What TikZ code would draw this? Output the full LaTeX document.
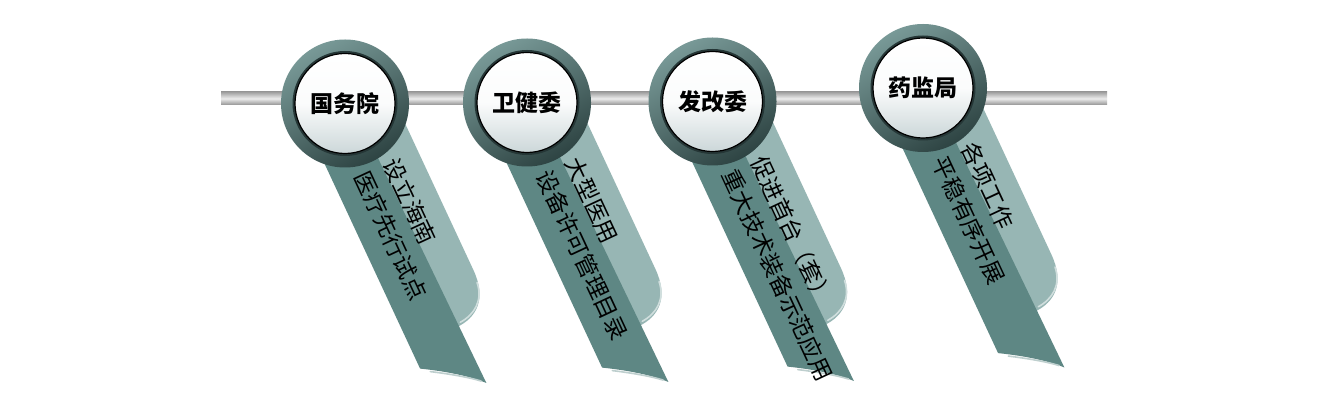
\documentclass[tikz,border=0pt]{standalone}
\usepackage{fontspec}
\usepackage{xcolor}
\usetikzlibrary{positioning}
\newfontfamily\cjk{Noto Sans CJK SC}
\definecolor{RingLight}{RGB}{120,153,151}
\definecolor{RingDark}{RGB}{46,68,67}
\definecolor{BandDark}{RGB}{94,135,132}
\definecolor{BandLight}{RGB}{151,182,180}
\definecolor{DiskShade}{RGB}{204,215,217}

\begin{document}
\begin{tikzpicture}[
  x=1pt, y=1pt,
  font=\cjk,
  bar/.style={top color=gray!75, bottom color=gray!85, middle color=white!85!gray},
  ring/.style={circle, minimum size=128pt, inner sep=0pt,
    top color=RingLight, bottom color=RingDark, shading angle=30},
  badge/.style={circle, minimum size=100pt, inner sep=0pt,
    preaction={draw=RingDark!80!black, line width=5pt},
    draw=black, line width=1.2pt,
    top color=white, bottom color=DiskShade, middle color=white!92!DiskShade,
    font=\cjk\bfseries\fontsize{23}{23}\selectfont},
  ribbontext/.style={align=left, inner sep=0pt, rotate=-65, anchor=west,
    font=\cjk\fontsize{23}{32}\selectfont},
  shine/.style={line width=1.6pt, line cap=round},
  ribbon/.pic={
    \begin{scope}[rotate=25]
      \fill[BandLight] (6,0) -- (46,0) -- (46,-205)
        .. controls (46,-236) and (30,-250) .. (6,-250) -- cycle;
      \draw[shine, white!55!BandLight] (44,-218)
        .. controls (42,-237) and (28,-246) .. (12,-247);
      \fill[BandDark] (-44,0) -- (-44,-272)
        .. controls (-24,-284) and (-4,-298) .. (10,-313) -- (6,0) -- cycle;
      \draw[shine, white!60!BandDark] (-36,-279)
        .. controls (-20,-289) and (-4,-300) .. (6,-309);
      \node[ribbontext] (-txt) at (1.5,-70) {#1};
    \end{scope}
  }
]
  \useasboundingbox[fill=white] (0,0) rectangle (1329,401);

  % centres of the four badges
  \coordinate (gwy-c) at (345,297.5);
  \coordinate (wjw-c) at (527,298.5);
  \coordinate (fgw-c) at (712.5,299.5);
  \coordinate (yjj-c) at (923,313);
  \coordinate (bar-l) at (221,296);
  \coordinate (bar-r) at (1107,309);

  % the rod behind the badges
  \shade[bar] (bar-l) rectangle (bar-r);

  % hanging ribbons
  \pic (gwy) at (gwy-c) {ribbon={设立海南\\医疗先行试点}};
  \pic (wjw) at (wjw-c) {ribbon={大型医用\\设备许可管理目录}};
  \pic (fgw) at (fgw-c) {ribbon={促进首台（套）\\重大技术装备示范应用}};
  \pic (yjj) at (yjj-c) {ribbon={各项工作\\平稳有序开展}};

  % badges
  \node[ring] (gwy-ring) at (gwy-c) {};
  \node[badge] (gwy) at (gwy-c) {国务院};
  \node[ring] (wjw-ring) at (wjw-c) {};
  \node[badge] (wjw) at (wjw-c) {卫健委};
  \node[ring] (fgw-ring) at (fgw-c) {};
  \node[badge] (fgw) at (fgw-c) {发改委};
  \node[ring] (yjj-ring) at (yjj-c) {};
  \node[badge] (yjj) at (yjj-c) {药监局};
\end{tikzpicture}
\end{document}
